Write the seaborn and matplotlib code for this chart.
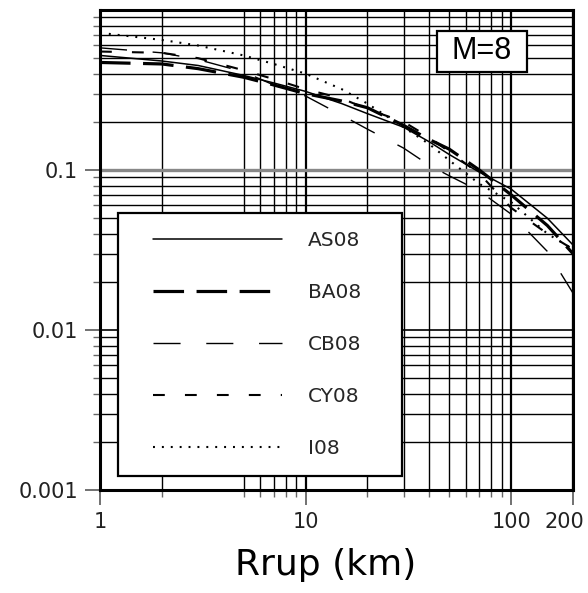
import matplotlib
matplotlib.use("Agg")
import matplotlib.pyplot as plt
import matplotlib.transforms as mtransforms
import seaborn as sns
import pandas as pd
from matplotlib.lines import Line2D
from matplotlib.legend_handler import HandlerLine2D
from matplotlib.patches import Rectangle
from matplotlib.ticker import FixedLocator, NullFormatter

# distances (km) and median values
rrup = [1, 2, 3, 5, 7, 10, 15, 20, 30, 40, 50, 70, 100, 150, 200]
as08 = [0.52, 0.48, 0.45, 0.39, 0.35, 0.31, 0.26, 0.225, 0.185, 0.15, 0.125, 0.097, 0.076, 0.05, 0.034]
ba08 = [0.47, 0.46, 0.43, 0.38, 0.34, 0.30, 0.27, 0.245, 0.19, 0.155, 0.135, 0.10, 0.07, 0.045, 0.03]
cb08 = [0.58, 0.54, 0.49, 0.41, 0.34, 0.29, 0.22, 0.18, 0.137, 0.107, 0.092, 0.074, 0.053, 0.031, 0.017]
cy08 = [0.55, 0.54, 0.50, 0.42, 0.37, 0.32, 0.28, 0.24, 0.20, 0.16, 0.13, 0.095, 0.058, 0.04, 0.032]
i08 = [0.72, 0.65, 0.60, 0.52, 0.46, 0.40, 0.32, 0.26, 0.185, 0.145, 0.115, 0.082, 0.063, 0.04, 0.032]

models = ["AS08", "BA08", "CB08", "CY08", "I08"]
x_ticks = [1, 10, 100, 200]
x_ticklabels = ["1", "10", "100", "200"]
x_minor = [2, 5, 6, 7, 8, 9, 20, 30, 40, 50, 60, 70, 80, 90]
y_ticks = [0.001, 0.01, 0.1]
y_ticklabels = ["0.001", "0.01", "0.1"]

df = pd.concat([
    pd.DataFrame({"Rrup": rrup, "val": v, "model": m})
    for m, v in zip(models, [as08, ba08, cb08, cy08, i08])
])

sns.set_style("ticks")
plt.rcParams["font.family"] = ["DejaVu Sans"]
plt.rcParams["lines.scale_dashes"] = False

fig = plt.figure(figsize=(5.88, 5.93), dpi=100)
ax = fig.add_axes([100 / 588, 103 / 593, 473 / 588, 480 / 593])

dash_map = {"AS08": "", "BA08": (22, 9), "CB08": (19.5, 18.5),
            "CY08": (8.5, 14.5), "I08": (1.4, 5.0)}
size_map = {"AS08": 1.1, "BA08": 2.3, "CB08": 1.0, "CY08": 1.5, "I08": 1.5}

sns.lineplot(data=df, x="Rrup", y="val", style="model", size="model",
             style_order=models, size_order=models,
             dashes=dash_map, sizes=size_map, color="black",
             legend=False, ax=ax, zorder=3)

ax.set_xscale("log")
ax.set_yscale("log")
ax.set_xlim(1, 200)
ax.set_ylim(0.001, 1)

ax.xaxis.set_major_locator(FixedLocator(x_ticks))
ax.set_xticklabels(x_ticklabels)
ax.xaxis.set_minor_locator(FixedLocator(x_minor))
ax.xaxis.set_minor_formatter(NullFormatter())
ax.yaxis.set_major_locator(FixedLocator(y_ticks))
ax.set_yticklabels(y_ticklabels)
ax.yaxis.set_minor_locator(FixedLocator(
    [m * d for d in [0.001, 0.01, 0.1] for m in range(2, 10)]))
ax.yaxis.set_minor_formatter(NullFormatter())

ax.grid(True, which="minor", color="black", lw=1.0)
ax.grid(True, which="major", axis="x", color="black", lw=1.6)
ax.grid(True, which="major", axis="y", color="black", lw=1.2)
# the 0.1 line is the grey, heavier one on the scan
ax.yaxis.get_gridlines()[2].set_color("#888888")
ax.yaxis.get_gridlines()[2].set_linewidth(2.4)

ax.tick_params(which="major", length=11, width=1.3, color="#666666",
               labelsize=15, labelcolor="#222222", pad=5)
ax.tick_params(which="minor", length=5, width=1.0, color="#666666")
# last x label sits at the right border; nudge it in a little
lab = ax.get_xticklabels()[-1]
lab.set_transform(lab.get_transform() + mtransforms.ScaledTranslation(
    -9 / 100, 0, fig.dpi_scale_trans))

for side in ["left", "right", "top", "bottom"]:
    ax.spines[side].set_color("black")
    ax.spines[side].set_linewidth(2.2)
ax.set_xlabel("")
ax.set_ylabel("")

# M=8 box
ax.add_patch(Rectangle((0.7125, 0.871), 0.19, 0.0854, transform=ax.transAxes,
                       facecolor="white", edgecolor="black", lw=1.6, zorder=5))
ax.text(0.8076, 0.9146, "M=8", transform=ax.transAxes, ha="center",
        va="center", fontsize=22, color="black",
        family=["Liberation Sans", "DejaVu Sans"], zorder=6)

fs = 14.5
handles = ax.get_lines()[:len(models)]
leg = ax.legend(handles, models, loc="lower left",
                bbox_to_anchor=(0.038, 0.029, 0.600, 0.5), mode="expand",
                borderaxespad=0, fontsize=fs, borderpad=0.9,
                labelspacing=1.64, handlelength=7.25, handletextpad=1.29,
                fancybox=False, framealpha=1, edgecolor="black",
                handler_map={Line2D: HandlerLine2D(xpad=0.84)})
leg.get_frame().set_linewidth(1.6)
leg.set_zorder(5)

fig.text(326 / 588, 1 - 565 / 593, "Rrup (km)", ha="center", va="center",
         fontsize=26, color="black")

fig.savefig("out.png", dpi=100)
